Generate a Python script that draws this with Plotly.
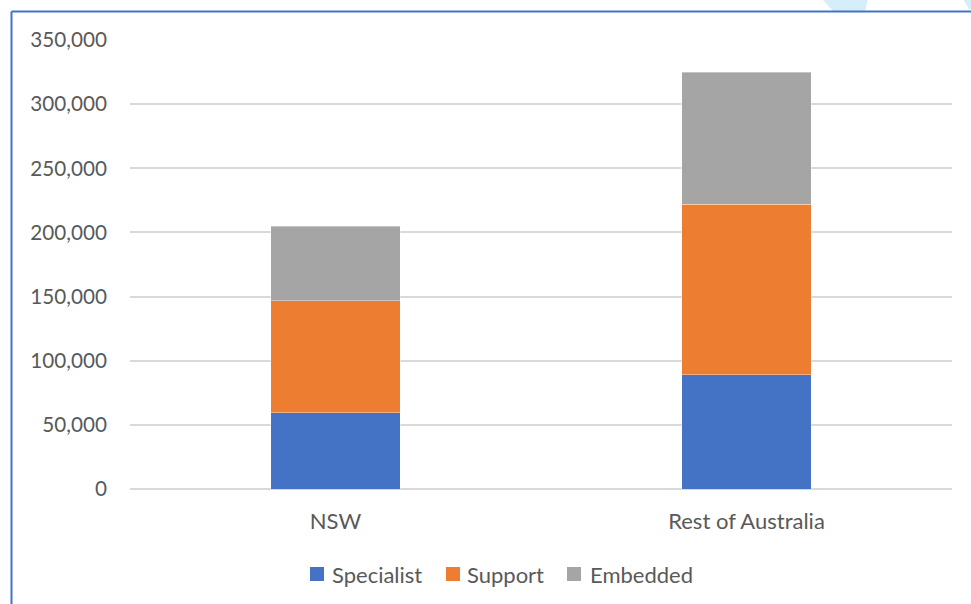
import plotly.graph_objects as go

# Workforce by role type, NSW vs rest of Australia
regions = ["NSW", "Rest of Australia"]
specialist = [59500, 89100]
support = [87200, 133000]
embedded = [58000, 102600]

series_names = ["Specialist", "Support", "Embedded"]
series_colors = ["#4472C4", "#ED7D31", "#A5A5A5"]
series_values = [specialist, support, embedded]

y_ticks = [0, 50000, 100000, 150000, 200000, 250000, 300000, 350000]

fig = go.Figure()
for name, color, vals in zip(series_names, series_colors, series_values):
    fig.add_trace(go.Bar(
        x=regions, y=vals, name=name,
        marker=dict(color=color, line=dict(color="rgba(255,255,255,0.6)", width=0.6)),
        width=0.314, showlegend=False,
    ))

font_family = "Lato, 'Open Sans', sans-serif"
text_color = "#595959"

# Plot area spans x 130..952 px and y 40..489 px of the 971x604 page
PX_L, PX_R, PX_T, PX_B = 130, 952, 40, 489


def px_x(px):
    return (px - PX_L) / (PX_R - PX_L)


def px_y(py):
    return (PX_B - py) / (PX_B - PX_T)


fig.update_layout(
    barmode="stack",
    width=971, height=604,
    margin=dict(l=PX_L, r=971 - PX_R, t=PX_T, b=604 - PX_B),
    paper_bgcolor="white", plot_bgcolor="white",
    font=dict(family=font_family, size=20, color=text_color),
    xaxis=dict(showgrid=False, showline=False, ticks="", ticklabelstandoff=17,
               tickfont=dict(size=22, color=text_color)),
    yaxis=dict(range=[0, 350000], tickvals=y_ticks, tickformat=",d",
               showgrid=True, gridcolor="#D9D9D9", gridwidth=1.5,
               zeroline=True, zerolinecolor="#D9D9D9", zerolinewidth=1.5,
               showline=False, ticks="", ticklabelstandoff=22,
               tickfont=dict(size=20.7, color=text_color)),
    showlegend=False,
)

# Legend: colour squares with labels below the plot
legend_items = [(310, 330), (446, 465), (567, 588)]
legend_y = 574
for (sq_x, txt_x), name, color in zip(legend_items, series_names, series_colors):
    fig.add_shape(type="rect", xref="paper", yref="paper",
                  x0=px_x(sq_x), x1=px_x(sq_x + 14),
                  y0=px_y(legend_y + 7), y1=px_y(legend_y - 7),
                  fillcolor=color, line=dict(width=0))
    fig.add_annotation(xref="paper", yref="paper", x=px_x(txt_x), y=px_y(legend_y),
                       text=name, showarrow=False, xanchor="left", yanchor="middle",
                       font=dict(size=22, color=text_color, family=font_family))

# Frame border (left and top edges) and decorative accents along the top
fig.add_shape(type="line", xref="paper", yref="paper",
              x0=px_x(11.5), x1=px_x(11.5), y0=px_y(610), y1=px_y(11.5),
              line=dict(color="#4472C4", width=2))
fig.add_shape(type="line", xref="paper", yref="paper",
              x0=px_x(11.5), x1=px_x(980), y0=px_y(11.5), y1=px_y(11.5),
              line=dict(color="#4472C4", width=2), layer="above")
fig.add_shape(type="path", xref="paper", yref="paper",
              path=(f"M {px_x(822)},{px_y(-1)} L {px_x(868)},{px_y(-1)} "
                    f"L {px_x(865)},{px_y(11)} L {px_x(833)},{px_y(11)} Z"),
              fillcolor="#D5EEFA", line=dict(width=0), layer="below")
fig.add_shape(type="path", xref="paper", yref="paper",
              path=(f"M {px_x(963)},{px_y(-1)} L {px_x(972)},{px_y(-1)} "
                    f"L {px_x(972)},{px_y(9)} L {px_x(969)},{px_y(9)} Z"),
              fillcolor="#D5EEFA", line=dict(width=0), layer="below")

fig.write_html("out.html")
